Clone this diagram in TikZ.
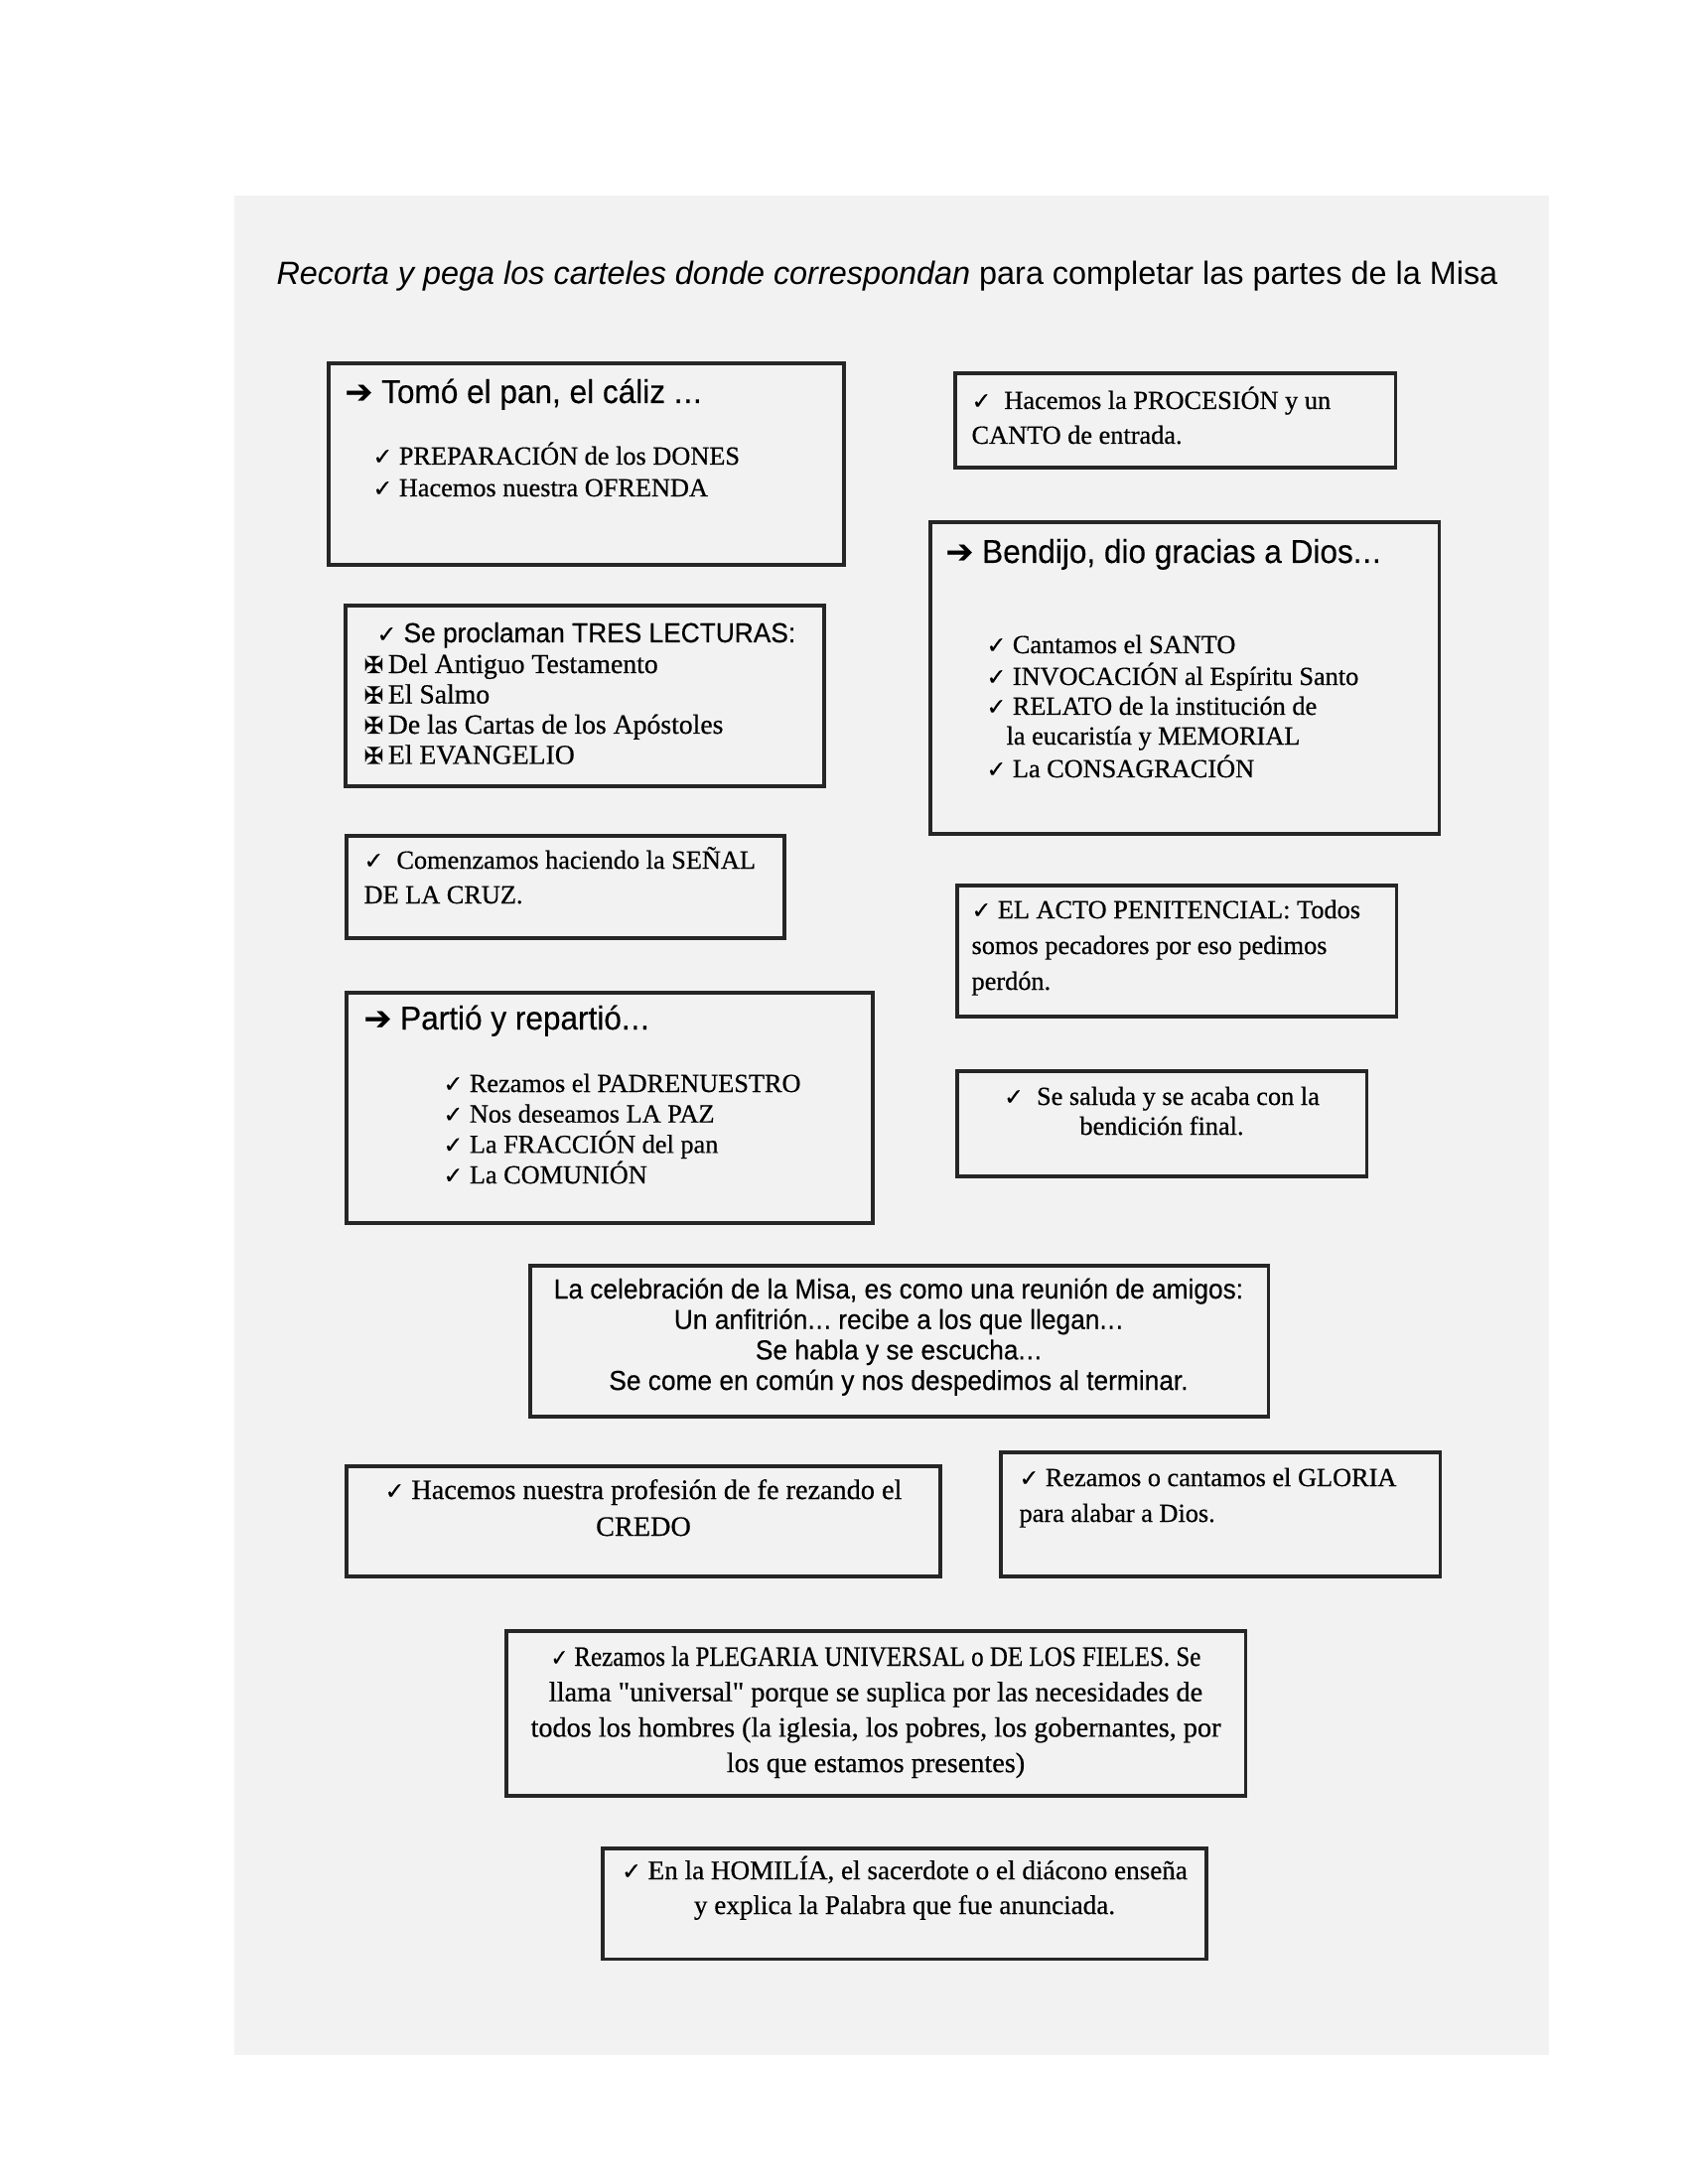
\documentclass[tikz,border=0pt]{standalone}
\usepackage{fontspec}
\setmainfont[FakeBold=0.5]{Liberation Serif}
\setsansfont{Liberation Sans}
\newfontfamily\simbolos[FakeBold=0.4]{DejaVu Sans}
\newfontfamily\estrecha[FakeStretch=0.95,FakeBold=0.3]{Liberation Sans}
\newfontfamily\rectas[FakeBold=0.5,Ligatures=TeXOff]{Liberation Serif}
\newcommand{\chk}{{\simbolos\fontsize{8.5}{10}\selectfont ✓}}
\newcommand{\flecha}{{\simbolos ➔}}
\newcommand{\cruz}{{\simbolos\fontsize{8.5}{10}\selectfont ✠}}
\newcommand{\ptos}{.\kern0.3pt.\kern0.3pt.}
\newcommand{\comillas}{{\rectas\symbol{34}}}
\usetikzlibrary{fit}

\begin{document}
\begin{tikzpicture}[x=0.0127cm, y=-0.0127cm,
    carta/.style={draw=black!85, line width=1.1pt, inner sep=0pt},
    linea/.style={inner sep=0pt, anchor=base west, text=black,
      font=\fontsize{9.5}{12}\selectfont},
    centro/.style={linea, anchor=base},
    titular/.style={inner sep=0pt, anchor=base west, text=black,
      font=\estrecha\fontsize{12}{14}\selectfont}]
  \useasboundingbox (0,0) rectangle (1700,2200);
  \fill[black!5] (236,197) rectangle (1560,2070);

  % title
  \node[inner sep=0pt, anchor=base west, text=black,
    font=\sffamily\fontsize{11.7}{14}\selectfont] (titulo) at (278,287)
    {\textit{Recorta y pega los carteles donde correspondan} para completar las partes de la Misa};

  % the cards
  \node[carta, fit={(331,366) (850,569)}] (tomo) {};
  \node[carta, fit={(962,376) (1405,471)}] (procesion) {};
  \node[carta, fit={(937,526) (1449,840)}] (bendijo) {};
  \node[carta, fit={(348,610) (830,792)}] (lecturas) {};
  \node[carta, fit={(349,842) (790,945)}] (senal) {};
  \node[carta, fit={(964,892) (1406,1024)}] (acto) {};
  \node[carta, fit={(349,1000) (879,1232)}] (partio) {};
  \node[carta, fit={(964,1079) (1376,1185)}] (saluda) {};
  \node[carta, fit={(534,1275) (1277,1427)}] (reunion) {};
  \node[carta, fit={(349,1477) (947,1588)}] (credo) {};
  \node[carta, fit={(1008,1463) (1450,1588)}] (gloria) {};
  \node[carta, fit={(510,1643) (1254,1809)}] (plegaria) {};
  \node[carta, fit={(607,1862) (1215,1973)}] (homilia) {};

  % Tomo el pan
  \node[titular] (tomo-t) at (347,406) {\flecha\ Tomó el pan, el cáliz \ptos};
  \foreach \t [count=\i from 0] in {{PREPARACIÓN de los DONES}, {Hacemos nuestra OFRENDA}}
    \node[linea] (tomo-\i) at (375,468+32*\i) {\chk\ \t};

  % procesion
  \node[linea] (procesion-0) at (978,412) {\chk\ \ Hacemos la PROCESIÓN y un};
  \node[linea] (procesion-1) at (978,447) {CANTO de entrada.};

  % Bendijo
  \node[titular] (bendijo-t) at (952,567) {\flecha\ Bendijo, dio gracias a Dios\ptos};
  \foreach \x/\y/\t [count=\i] in {993/658/{\chk\ Cantamos el SANTO},
      993/690/{\chk\ INVOCACIÓN al Espíritu Santo},
      993/720/{\chk\ RELATO de la institución de},
      1013/750/{la eucaristía y MEMORIAL},
      993/783/{\chk\ La CONSAGRACIÓN}}
    \node[linea] (bendijo-\i) at (\x,\y) {\t};

  % lecturas
  \node[titular, font=\estrecha\fontsize{10}{12}\selectfont] (lecturas-t) at (379,647)
    {\chk\ Se proclaman TRES LECTURAS:};
  \foreach \t [count=\i from 0] in {Del Antiguo Testamento, El Salmo,
      De las Cartas de los Apóstoles, El EVANGELIO}
    \node[linea, font=\fontsize{10}{12}\selectfont] (lecturas-\i) at (366,678+30.5*\i) {\cruz\,\t};

  % senal de la cruz
  \node[linea] (senal-0) at (366,875) {\chk\ \ Comenzamos haciendo la SEÑAL};
  \node[linea] (senal-1) at (366,910) {DE LA CRUZ.};

  % acto penitencial
  \foreach \t [count=\i from 0] in {{\chk\ EL ACTO PENITENCIAL: Todos},
      {somos pecadores por eso pedimos}, {perdón.}}
    \node[linea] (acto-\i) at (978,925+36*\i) {\t};

  % Partio
  \node[titular] (partio-t) at (366,1037) {\flecha\ Partió y repartió\ptos};
  \foreach \t [count=\i from 0] in {Rezamos el PADRENUESTRO, Nos deseamos LA PAZ,
      La FRACCIÓN del pan, La COMUNIÓN}
    \node[linea] (partio-\i) at (446,1100+30.7*\i) {\chk\ \t};

  % despedida
  \node[centro] (saluda-0) at (1170,1113) {\chk\ \ Se saluda y se acaba con la};
  \node[centro] (saluda-1) at (1170,1143) {bendición final.};

  % reunion de amigos
  \foreach \t [count=\i from 0] in {{La celebración de la Misa, es como una reunión de amigos:},
      {Un anfitrión\ptos\ recibe a los que llegan\ptos}, {Se habla y se escucha\ptos},
      {Se come en común y nos despedimos al terminar.}}
    \node[centro, font=\estrecha\fontsize{10}{12}\selectfont] (reunion-\i) at (905,1308+30.7*\i) {\t};

  % credo y gloria
  \node[centro, font=\fontsize{10.2}{12}\selectfont] (credo-0) at (648,1510)
    {\chk\ Hacemos nuestra profesión de fe rezando el};
  \node[centro, font=\fontsize{10.2}{12}\selectfont] (credo-1) at (648,1547) {CREDO};
  \node[linea] (gloria-0) at (1026,1497) {\chk\ Rezamos o cantamos el GLORIA};
  \node[linea] (gloria-1) at (1026,1533) {para alabar a Dios.};

  % plegaria universal
  \foreach \t [count=\i from 0] in {{\scalebox{0.885}[1]{\chk\ Rezamos la PLEGARIA UNIVERSAL o DE LOS FIELES. Se}},
      {llama \comillas universal\comillas\ porque se suplica por las necesidades de},
      {todos los hombres (la iglesia, los pobres, los gobernantes, por},
      {los que estamos presentes)}}
    \node[centro, font=\fontsize{10.2}{12}\selectfont] (plegaria-\i) at (882,1678+35.7*\i) {\t};

  % homilia
  \node[centro, font=\fontsize{9.8}{12}\selectfont] (homilia-0) at (911,1893)
    {\chk\ En la HOMILÍA, el sacerdote o el diácono enseña};
  \node[centro, font=\fontsize{9.8}{12}\selectfont] (homilia-1) at (911,1928)
    {y explica la Palabra que fue anunciada.};
\end{tikzpicture}
\end{document}
